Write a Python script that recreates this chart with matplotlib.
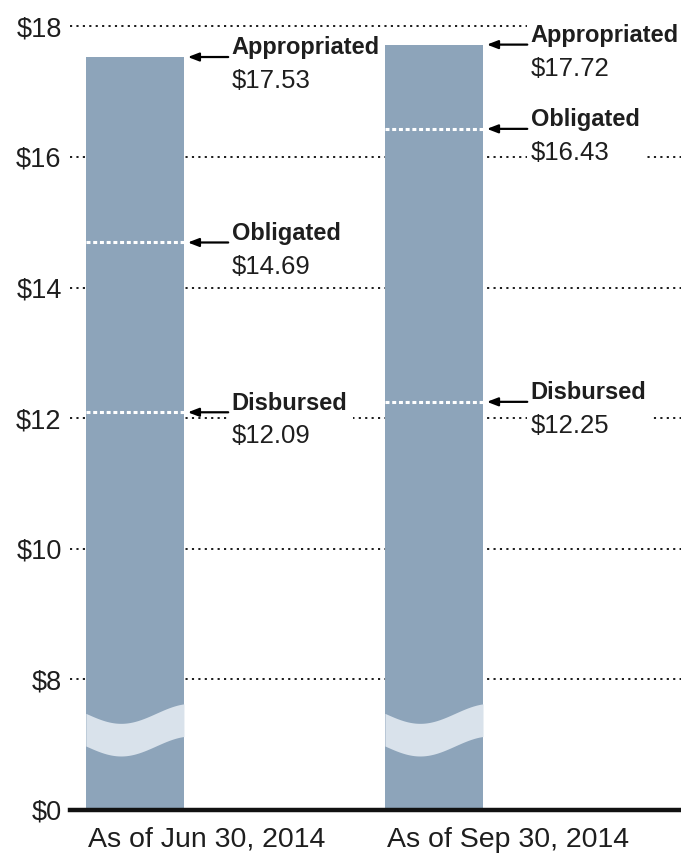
import matplotlib
matplotlib.use("Agg")
import matplotlib.pyplot as plt
import numpy as np
from matplotlib.patches import Rectangle
from matplotlib.transforms import Bbox

# data (billions of dollars)
dates = ["As of Jun 30, 2014", "As of Sep 30, 2014"]
appropriated = [17.53, 17.72]
obligated = [14.69, 16.43]
disbursed = [12.09, 12.25]
ytick_values = [0, 8, 10, 12, 14, 16, 18]

# axis is broken between $0 and $8: $0 is drawn where $6 would be
ZERO_POS = 6.0


def to_axis(v):
    return v if v >= 8 else ZERO_POS


BAR_COLOR = "#8da4ba"
WAVE_COLOR = "#d9e2eb"
TEXT_COLOR = "#1e1e1e"
FONT = ["Liberation Sans", "DejaVu Sans"]
plt.rcParams["font.family"] = FONT

fig = plt.figure(figsize=(6.81, 8.64), dpi=100)
ax = fig.add_axes([70 / 681, 54 / 864, 611 / 681, 800 / 864])

x = np.arange(len(dates))
w = 0.328

# dotted gridlines
for v in ytick_values[1:]:
    ax.axhline(to_axis(v), color="#1a1a1a", lw=1.4, ls=(0, (1.1, 2.2)), zorder=0.5)

# bars
tops = [to_axis(v) for v in appropriated]
ax.bar(x, np.array(tops) - ZERO_POS, bottom=ZERO_POS, width=w,
       color=BAR_COLOR, zorder=2)

# wavy break band inside each bar
t = np.linspace(0, 1, 100)
for xi in x:
    xs = xi - w / 2 + t * w
    top = 7.48 - 0.153 * np.sin(np.pi * 1.4 * t)
    ax.fill_between(xs, top - 0.5, top, color=WAVE_COLOR, lw=0, zorder=2.5)

# white dotted marks for obligated / disbursed
for xi, o, d in zip(x, obligated, disbursed):
    for v in (o, d):
        ax.plot([xi - w / 2, xi + w / 2], [v, v], color="white", lw=2.2,
                ls=(0, (1.3, 0.9)), zorder=3, solid_capstyle="butt")

# zero baseline
ax.axhline(ZERO_POS, color="#111111", lw=3.2, zorder=3.5, clip_on=False)

# annotations
blocks = []
for xi, a, o, d in zip(x, appropriated, obligated, disbursed):
    for name, v in (("Appropriated", a), ("Obligated", o), ("Disbursed", d)):
        right = xi + w / 2
        ax.annotate("", xy=(right + 0.013, v), xytext=(right + 0.148, v),
                    arrowprops=dict(arrowstyle="-|>,head_length=0.65,head_width=0.25",
                                    color="black", lw=1.6, shrinkA=0, shrinkB=0),
                    zorder=5)
        t1 = ax.text(right + 0.16, v + 0.14, name, fontsize=17, fontweight="bold",
                     color=TEXT_COLOR, ha="left", va="center", zorder=5)
        t2 = ax.text(right + 0.16, v - 0.37, f"${v:.2f}", fontsize=18.5,
                     color=TEXT_COLOR, ha="left", va="center", zorder=5)
        blocks.append((t1, t2))

# axes styling
ax.set_xlim(-0.217, 1.826)
ax.set_ylim(ZERO_POS, 18.25)
for s in ["top", "bottom", "left", "right"]:
    ax.spines[s].set_visible(False)
ax.set_yticks([to_axis(v) for v in ytick_values])
ax.set_yticklabels([f"${v}" for v in ytick_values], fontsize=19.5, color=TEXT_COLOR)
ax.set_xticks(x - w / 2 + 0.008)
ax.set_xticklabels(dates, fontsize=20.5, color=TEXT_COLOR, ha="left")
ax.tick_params(axis="both", length=0)
ax.tick_params(axis="y", pad=6)
ax.tick_params(axis="x", pad=12)

# white boxes behind annotation text so the gridlines break around them
fig.canvas.draw()
renderer = fig.canvas.get_renderer()
inv = ax.transData.inverted()
for t1, t2 in blocks:
    bb = Bbox.union([t1.get_window_extent(renderer), t2.get_window_extent(renderer)])
    (x0, y0), (x1, y1) = inv.transform([[bb.x0 - 4, bb.y0 - 6], [bb.x1 + 5, bb.y1 + 4]])
    ax.add_patch(Rectangle((x0, y0), x1 - x0, y1 - y0, fc="white", ec="none", zorder=1))

fig.savefig("out.png", dpi=100)
